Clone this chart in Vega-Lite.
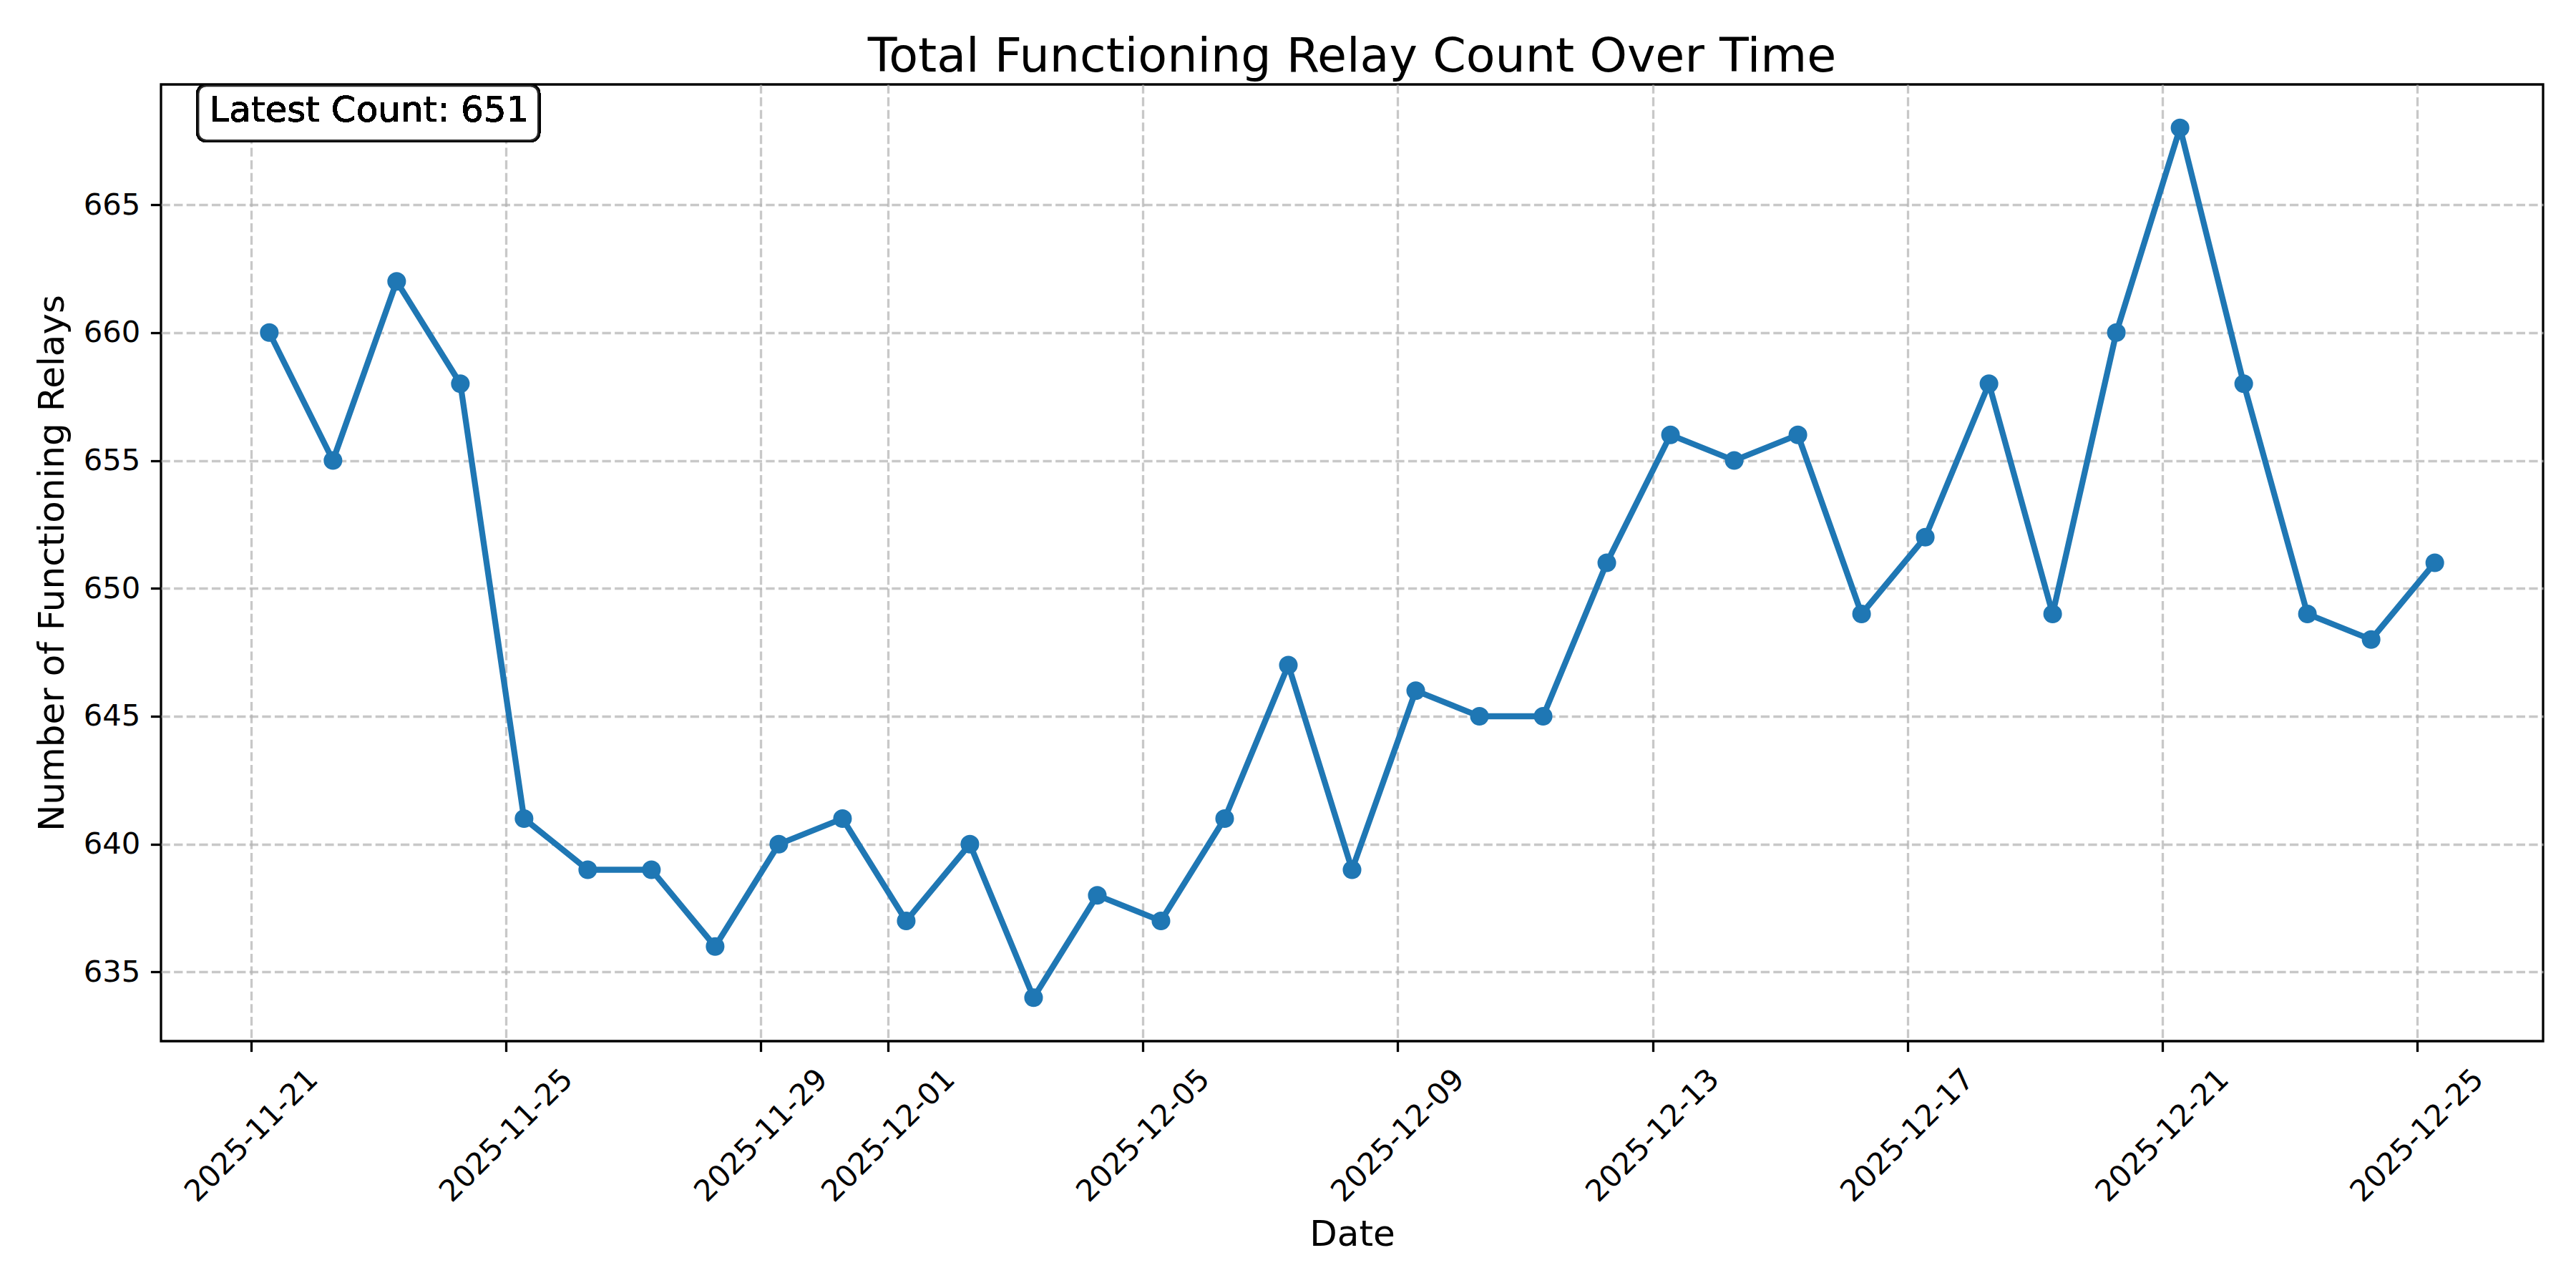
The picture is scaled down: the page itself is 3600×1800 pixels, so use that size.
{
  "$schema": "https://vega.github.io/schema/vega-lite/v6.json",
  "width": 3329,
  "height": 1337,
  "autosize": {"type": "none"},
  "padding": {"left": 225, "top": 118, "right": 46, "bottom": 345},
  "background": "white",
  "title": {
    "text": "Total Functioning Relay Count Over Time",
    "font": "DejaVu Sans",
    "fontSize": 66.7,
    "fontWeight": "normal",
    "color": "black",
    "anchor": "middle",
    "frame": "group",
    "baseline": "alphabetic",
    "offset": 25,
    "dy": 75
  },
  "config": {
    "font": "DejaVu Sans",
    "view": {"stroke": "black", "strokeWidth": 3.3},
    "axis": {
      "domain": false,
      "grid": true,
      "gridColor": "#b0b0b0",
      "gridOpacity": 0.7,
      "gridDash": [12.3, 5.3],
      "gridWidth": 3.3,
      "ticks": true,
      "tickColor": "black",
      "tickWidth": 3.3,
      "tickSize": 14.6,
      "labelFont": "DejaVu Sans",
      "labelFontSize": 41.7,
      "labelColor": "black",
      "labelLimit": 0,
      "titleFont": "DejaVu Sans",
      "titleFontSize": 50,
      "titleFontWeight": "normal",
      "titleColor": "black"
    }
  },
  "data": {
    "values": [
      {"date": "2025-11-21T06:45:00", "count": 660},
      {"date": "2025-11-22T06:45:00", "count": 655},
      {"date": "2025-11-23T06:45:00", "count": 662},
      {"date": "2025-11-24T06:45:00", "count": 658},
      {"date": "2025-11-25T06:45:00", "count": 641},
      {"date": "2025-11-26T06:45:00", "count": 639},
      {"date": "2025-11-27T06:45:00", "count": 639},
      {"date": "2025-11-28T06:45:00", "count": 636},
      {"date": "2025-11-29T06:45:00", "count": 640},
      {"date": "2025-11-30T06:45:00", "count": 641},
      {"date": "2025-12-01T06:45:00", "count": 637},
      {"date": "2025-12-02T06:45:00", "count": 640},
      {"date": "2025-12-03T06:45:00", "count": 634},
      {"date": "2025-12-04T06:45:00", "count": 638},
      {"date": "2025-12-05T06:45:00", "count": 637},
      {"date": "2025-12-06T06:45:00", "count": 641},
      {"date": "2025-12-07T06:45:00", "count": 647},
      {"date": "2025-12-08T06:45:00", "count": 639},
      {"date": "2025-12-09T06:45:00", "count": 646},
      {"date": "2025-12-10T06:45:00", "count": 645},
      {"date": "2025-12-11T06:45:00", "count": 645},
      {"date": "2025-12-12T06:45:00", "count": 651},
      {"date": "2025-12-13T06:45:00", "count": 656},
      {"date": "2025-12-14T06:45:00", "count": 655},
      {"date": "2025-12-15T06:45:00", "count": 656},
      {"date": "2025-12-16T06:45:00", "count": 649},
      {"date": "2025-12-17T06:45:00", "count": 652},
      {"date": "2025-12-18T06:45:00", "count": 658},
      {"date": "2025-12-19T06:45:00", "count": 649},
      {"date": "2025-12-20T06:45:00", "count": 660},
      {"date": "2025-12-21T06:45:00", "count": 668},
      {"date": "2025-12-22T06:45:00", "count": 658},
      {"date": "2025-12-23T06:45:00", "count": 649},
      {"date": "2025-12-24T06:45:00", "count": 648},
      {"date": "2025-12-25T06:45:00", "count": 651}
    ]
  },
  "encoding": {
    "x": {
      "field": "date",
      "type": "temporal",
      "title": "Date",
      "scale": {
        "domain": [
          {"year": 2025, "month": 11, "date": 19, "hours": 13, "minutes": 57},
          {"year": 2025, "month": 12, "date": 26, "hours": 23, "minutes": 33}
        ]
      },
      "axis": {
        "values": [
          {"year": 2025, "month": 11, "date": 21},
          {"year": 2025, "month": 11, "date": 25},
          {"year": 2025, "month": 11, "date": 29},
          {"year": 2025, "month": 12, "date": 1},
          {"year": 2025, "month": 12, "date": 5},
          {"year": 2025, "month": 12, "date": 9},
          {"year": 2025, "month": 12, "date": 13},
          {"year": 2025, "month": 12, "date": 17},
          {"year": 2025, "month": 12, "date": 21},
          {"year": 2025, "month": 12, "date": 25}
        ],
        "format": "%Y-%m-%d",
        "labelAngle": -45,
        "labelAlign": "center",
        "labelBaseline": "middle",
        "labelPadding": 117,
        "labelOverlap": false,
        "labelFlush": false,
        "titleBaseline": "alphabetic",
        "titleY": 285,
        "titleAnchor": "middle"
      }
    },
    "y": {
      "field": "count",
      "type": "quantitative",
      "title": "Number of Functioning Relays",
      "scale": {"domain": [632.3, 669.7], "zero": false, "nice": false},
      "axis": {
        "values": [635, 640, 645, 650, 655, 660, 665],
        "labelPadding": 14.6,
        "labelBaseline": "middle",
        "titleAngle": -90,
        "titleBaseline": "alphabetic",
        "titleX": -137,
        "titleAnchor": "middle"
      }
    }
  },
  "layer": [
    {
      "mark": {"type": "line", "color": "#1f77b4", "strokeWidth": 8.3, "strokeJoin": "round", "strokeCap": "round"}
    },
    {
      "mark": {"type": "circle", "color": "#1f77b4", "size": 680, "opacity": 1}
    },
    {
      "mark": {"type": "rect", "fill": "white", "fillOpacity": 0.8, "stroke": "black", "strokeOpacity": 0.8, "strokeWidth": 4.2, "cornerRadius": 12},
      "encoding": {
        "x": {"datum": {"year": 2025, "month": 11, "date": 20, "hours": 3, "minutes": 47}, "type": "temporal"},
        "x2": {"datum": {"year": 2025, "month": 11, "date": 25, "hours": 12, "minutes": 20}},
        "y": {"datum": 669.67, "type": "quantitative"},
        "y2": {"datum": 667.49}
      }
    },
    {
      "mark": {"type": "text", "text": "Latest Count: 651", "font": "DejaVu Sans", "fontSize": 50, "color": "black", "align": "left", "baseline": "alphabetic"},
      "encoding": {
        "x": {"datum": {"year": 2025, "month": 11, "date": 20, "hours": 8, "minutes": 6}, "type": "temporal"},
        "y": {"datum": 668.25, "type": "quantitative"}
      }
    }
  ]
}
